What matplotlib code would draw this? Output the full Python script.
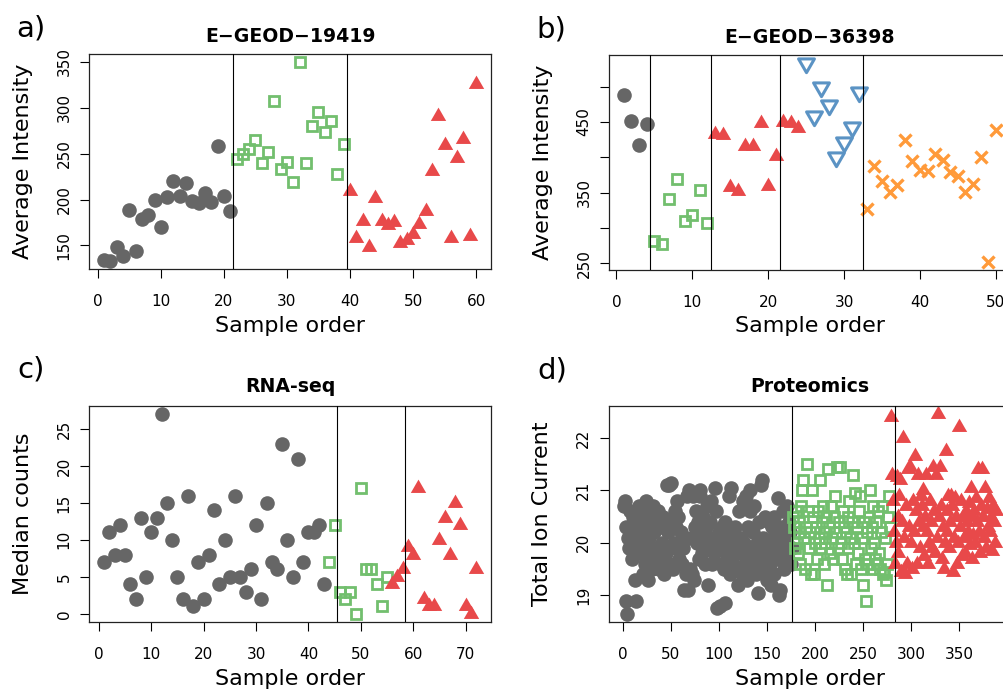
import matplotlib
matplotlib.use("Agg")
import matplotlib.pyplot as plt
from matplotlib.path import Path
import numpy as np

# a) E-GEOD-19419 : average intensity per sample, grouped by batch
a_gray = [134, 133, 148, 139, 189, 144, 179, 183, 200, 170, 203, 220, 204, 218,
          198, 196, 207, 197, 258, 204, 188]
a_green = [244, 250, 255, 265, 240, 252, 307, 233, 241, 219, 350, 240, 280, 296,
           274, 286, 228, 261]
a_red = [209, 158, 177, 148, 202, 177, 172, 175, 153, 156, 162, 173, 187, 231,
         291, 259, 158, 245, 266, 160, 326]
a_lines = [21.5, 39.5]

# b) E-GEOD-36398
b_gray = [488, 451, 417, 447]
b_green = [281, 278, 341, 369, 310, 318, 354, 307]
b_red = [433, 432, 358, 353, 416, 416, 449, 360, 402, 450, 449, 442]
b_blue = [534, 459, 499, 474, 401, 422, 443, 493]
b_orange = [327, 388, 366, 351, 361, 424, 395, 382, 381, 404, 396, 379, 374, 351,
            362, 401, 252.5, 438]
b_lines = [4.5, 12.5, 21.5, 32.5]

# c) RNA-seq median counts
c_gray = [7, 11, 8, 12, 8, 4, 2, 13, 5, 11, 13, 27, 15, 10, 5, 2, 16, 1, 7, 2, 8,
          14, 4, 10, 5, 16, 5, 3, 6, 12, 2, 15, 7, 6, 23, 10, 5, 21, 7, 11, 11,
          12, 4]
c_green = [7, 12, 3, 2, 3, 0, 17, 6, 6, 4, 1, 5]
c_red = [4, 5, 6, 9, 8, 17, 2, 1, 1, 10, 13, 8, 15, 12, 1, 0, 6]
c_lines = [45.5, 58.5]

# d) Proteomics total ion current
d_gray = [20.7, 20.8, 20.3, 18.9, 18.65, 20.1, 19.9, 20.6, 20.2, 19.7, 20.5, 19.9, 19.3, 18.9, 20.0, 20.4,
          20.7, 19.8, 20.2, 20.3, 19.4, 20.6, 19.6, 20.8, 20.0, 19.3, 20.1, 20.5, 19.8, 20.3, 19.5, 20.7,
          20.2, 19.6, 20.4, 19.9, 20.6, 19.5, 20.3, 19.7, 20.0, 20.5, 19.4, 20.3, 19.8, 21.1, 20.2, 21.1,
          19.6, 21.15, 20.4, 19.5, 20.0, 20.6, 19.9, 20.3, 20.8, 20.5, 19.7, 20.0, 20.2, 19.6, 19.9, 19.1,
          20.1, 19.4, 20.9, 19.1, 21.0, 19.5, 20.1, 19.4, 20.9, 19.3, 20.3, 20.6, 20.0, 20.4, 19.7, 20.9,
          21.0, 20.2, 19.8, 20.5, 20.0, 19.6, 20.3, 20.7, 19.2, 20.0, 20.4, 20.8, 19.6, 20.1, 19.8, 21.05,
          20.6, 18.75, 19.9, 20.2, 18.8, 19.6, 20.3, 20.0, 19.5, 20.4, 18.85, 19.8, 20.1, 19.7, 20.9, 19.4,
          21.05, 20.2, 19.6, 19.9, 20.3, 19.5, 20.0, 19.2, 20.6, 19.8, 20.1, 19.4, 20.8, 20.0, 19.6, 20.9,
          19.3, 20.3, 19.7, 21.0, 20.6, 19.9, 19.5, 20.2, 20.7, 19.8, 19.4, 20.0, 19.05, 20.4, 19.6, 21.1,
          21.2, 20.1, 19.5, 20.5, 19.8, 19.3, 20.0, 20.4, 19.6, 19.2, 20.3, 19.9, 20.5, 19.4, 20.2, 19.7,
          20.0, 20.85, 19.0, 19.1, 19.8, 20.3, 20.6, 19.5, 19.9, 20.1, 20.7, 19.7, 20.4, 20.2, 19.6, 19.9]
d_green = [20.5, 20.3, 19.9, 20.6, 20.0, 19.8, 20.4, 20.2, 19.6, 20.7, 21.0, 21.2, 20.1, 19.5, 20.3, 21.5,
           20.6, 19.9, 20.2, 19.4, 21.0, 20.5, 19.4, 20.0, 20.3, 19.7, 20.6, 20.1, 21.2, 19.9, 20.4, 20.7,
           19.6, 20.2, 20.0, 20.5, 19.2, 21.4, 20.3, 19.8, 20.7, 20.1, 19.7, 20.5, 20.9, 20.2, 21.45, 19.9,
           20.4, 21.45, 20.0, 19.7, 20.6, 20.3, 19.5, 20.2, 19.4, 20.5, 19.9, 20.8, 20.1, 19.4, 20.4, 21.3,
           20.0, 20.95, 19.6, 20.3, 19.8, 20.6, 20.9, 19.5, 20.1, 19.2, 20.4, 19.7, 18.9, 20.2, 19.6, 20.5,
           21.0, 19.9, 20.3, 19.5, 20.7, 20.0, 19.7, 20.4, 19.6, 20.6, 19.8, 19.5, 20.2, 20.7, 19.4, 19.45,
           20.1, 19.3, 19.6, 20.5, 20.9, 20.3]
d_red = [22.4, 21.3, 20.8, 20.2, 19.6, 20.0, 21.25, 20.5, 19.8, 20.9, 21.2, 19.45, 20.4, 22.0, 20.1, 19.4,
         20.7, 19.6, 21.4, 20.3, 21.45, 20.0, 19.5, 20.8, 20.2, 21.65, 20.6, 19.6, 21.3, 20.4, 19.9, 20.9,
         20.7, 21.0, 20.3, 19.75, 20.5, 21.3, 20.2, 19.6, 20.0, 20.8, 20.4, 19.9, 21.45, 20.6, 19.8, 21.3,
         20.1, 22.45, 20.5, 21.45, 20.7, 19.7, 20.3, 19.5, 20.0, 21.75, 20.6, 20.2, 20.9, 19.9, 20.4, 20.9,
         20.7, 19.45, 20.1, 20.85, 20.5, 19.6, 20.0, 22.2, 20.3, 20.8, 19.75, 20.5, 20.1, 19.8, 20.6, 20.4,
         20.2, 20.75, 19.95, 21.05, 20.5, 19.7, 20.15, 20.6, 20.0, 20.85, 20.4, 21.4, 20.2, 19.8, 20.7, 21.4,
         20.5, 20.1, 21.05, 19.9, 20.65, 20.3, 20.85, 20.2, 20.5, 19.85, 20.7, 20.4, 20.0, 20.6]
d_lines = [176.5, 283.5]

GRAY = "#666666"
GREEN = "#72bf6e"
RED = "#e8494a"
BLUE = "#5b93c4"
ORANGE = "#ff9a3a"

TRI_UP = Path([(0, 1), (-0.866, -0.5), (0.866, -0.5), (0, 1)],
              [Path.MOVETO, Path.LINETO, Path.LINETO, Path.CLOSEPOLY])
TRI_DOWN = Path([(0, -1), (-0.866, 0.5), (0.866, 0.5), (0, -1)],
                [Path.MOVETO, Path.LINETO, Path.LINETO, Path.CLOSEPOLY])

STYLES = {
    "gray": dict(marker="o", ms=10.5, mfc=GRAY, mec=GRAY, mew=0),
    "green": dict(marker="s", ms=7.2, mfc="none", mec=GREEN, mew=2.0),
    "red": dict(marker=TRI_UP, ms=12.8, mfc=RED, mec=RED, mew=0),
    "blue": dict(marker=TRI_DOWN, ms=13.2, mfc="none", mec=BLUE, mew=2.2),
    "orange": dict(marker="x", ms=9, mfc=ORANGE, mec=ORANGE, mew=2.4),
}

fig = plt.figure(figsize=(10.04, 6.89), dpi=100)


def r_lim(lo, hi):
    d = (hi - lo) * 0.04
    return lo - d, hi + d


def panel(rect, groups, lines, title, ylabel, xticks, yticks, ylabels, title_pad):
    ax = fig.add_axes(rect)
    start = 1
    allv = []
    for name, vals in groups:
        x = np.arange(start, start + len(vals))
        ax.plot(x, vals, linestyle="none", **STYLES[name])
        start += len(vals)
        allv += list(vals)
    n = start - 1
    ax.set_xlim(*r_lim(1, n))
    ax.set_ylim(*r_lim(min(allv), max(allv)))
    for v in lines:
        ax.axvline(v, color="black", lw=0.8, zorder=5)
    ax.set_xticks(xticks)
    ax.set_yticks(yticks)
    ax.set_yticklabels(ylabels)
    ax.tick_params(axis="x", length=6.7, width=0.8, pad=11.5, labelsize=11)
    ax.tick_params(axis="y", length=6.7, width=0.8, pad=6, labelsize=11,
                   labelrotation=90)
    for lab in ax.get_yticklabels():
        lab.set_va("center")
    for s in ax.spines.values():
        s.set_linewidth(0.9)
        s.set_color("#222222")
    ax.set_title(title, fontsize=13.6, fontweight="bold", pad=title_pad)
    ax.set_xlabel("Sample order", fontsize=16)
    ax.xaxis.label.set_va("center")
    ax.xaxis.set_label_coords(0.5, -0.264)
    ax.set_ylabel(ylabel, fontsize=16)
    ax.yaxis.label.set_va("center")
    ax.yaxis.set_label_coords(-0.165, 0.5)
    return ax


W = 0.4001
panel([0.0889, 0.6096, W, 0.312],
      [("gray", a_gray), ("green", a_green), ("red", a_red)], a_lines,
      "E\u2212GEOD\u221219419", "Average Intensity",
      range(0, 61, 10), range(150, 351, 50), ["150", "200", "250", "300", "350"], 8.3)

panel([0.6066, 0.6088, W, 0.312],
      [("gray", b_gray), ("green", b_green), ("red", b_red), ("blue", b_blue),
       ("orange", b_orange)], b_lines,
      "E\u2212GEOD\u221236398", "Average Intensity",
      range(0, 51, 10), range(250, 501, 50), ["250", "", "350", "", "450", ""], 8.0)

panel([0.0889, 0.0977, W, 0.3126],
      [("gray", c_gray), ("green", c_green), ("red", c_red)], c_lines,
      "RNA-seq", "Median counts",
      range(0, 71, 10), range(0, 26, 5), ["0", "5", "10", "15", "20", "25"], 10.5)

panel([0.6063, 0.0977, W, 0.3126],
      [("gray", d_gray), ("green", d_green), ("red", d_red)], d_lines,
      "Proteomics", "Total Ion Current",
      range(0, 351, 50), [19, 20, 21, 22], ["19", "20", "21", "22"], 10.5)

fig.text(0.016, 0.947, "a)", fontsize=21, va="baseline")
fig.text(0.534, 0.946, "b)", fontsize=21, va="baseline")
fig.text(0.017, 0.452, "c)", fontsize=21, va="baseline")
fig.text(0.535, 0.450, "d)", fontsize=21, va="baseline")

fig.savefig("out.png", dpi=100)
